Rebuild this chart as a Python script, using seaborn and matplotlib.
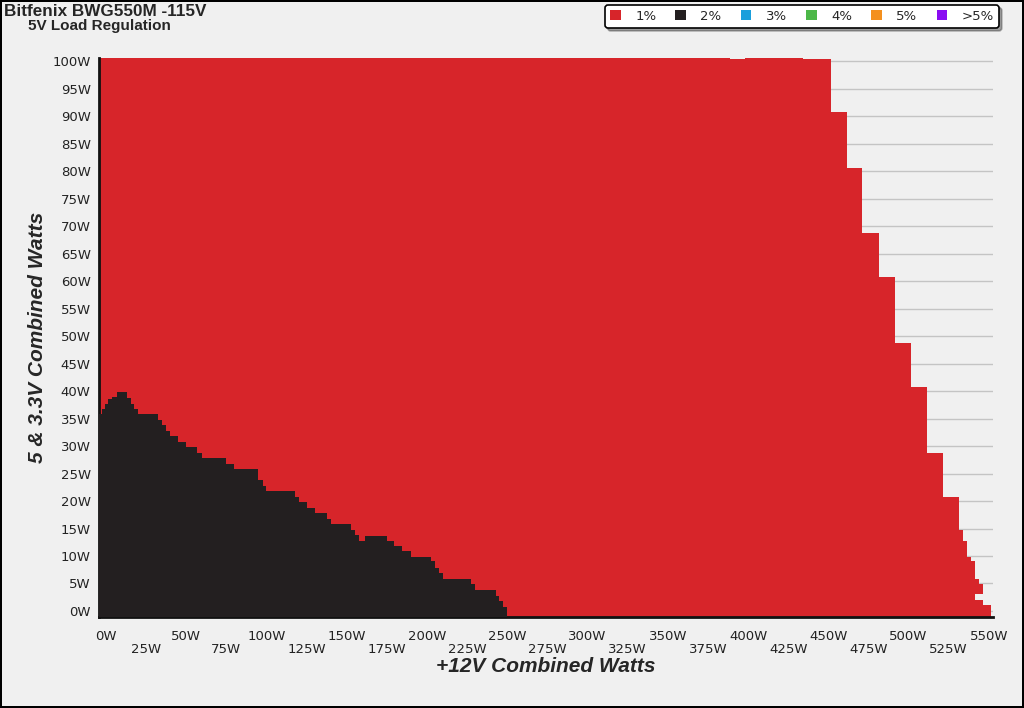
import matplotlib
matplotlib.use("Agg")
import matplotlib.pyplot as plt
import seaborn as sns
from matplotlib.patches import Patch
from matplotlib.ticker import MultipleLocator

# --- data (watts) ---
# black (2%) area: step tops along +12V axis
black_x = [-4.2, -2.5, -0.5, 1.5, 3.9, 6.6, 12.9, 15.4, 17.7, 20.1, 32.2, 34.7,
           37.2, 39.9, 44.6, 49.6, 56.9, 59.6, 74.8, 79.9, 94.9, 97.6, 99.7,
           117.8, 120.4, 125.0, 130.2, 137.9, 140.0, 152.6, 155.1, 157.6, 161.4,
           174.9, 179.4, 184.6, 189.8, 202.3, 205.0, 207.7, 209.8, 227.2, 229.9,
           242.8, 245.0, 247.5, 249.6]
black_y = [35.8, 36.7, 37.6, 38.5, 39.0, 39.8, 38.7, 37.7, 36.7, 35.8, 34.7, 33.8,
           32.8, 31.8, 30.8, 29.9, 28.8, 27.8, 26.7, 25.8, 23.8, 22.7, 21.8,
           20.8, 19.9, 18.7, 17.8, 16.7, 15.8, 14.7, 13.8, 12.8, 13.7,
           12.8, 11.8, 10.9, 9.9, 9.0, 7.8, 6.9, 5.9, 4.9, 3.8,
           2.7, 1.8, 0.8, 0.8]

# red (1%) area: right edge per 5V/3.3V level
red_y = [-1.1, 1.0, 2.0, 3.1, 4.9, 5.9, 9.0, 9.9, 12.7, 14.8, 20.8, 28.7,
         40.8, 48.7, 60.7, 68.7, 80.5, 90.7]
red_x = [551.4, 546.2, 541.4, 546.2, 544.1, 541.4, 538.9, 536.2, 533.7, 531.6,
         521.6, 511.3, 501.6, 491.6, 481.6, 471.2, 461.5, 451.7]
# top edge of red area above 90.7W
top_x = [-4.2, 388.8, 398.1, 434.3, 451.7]
top_y = [100.6, 100.3, 100.6, 100.4, 100.4]

legend_labels = ["1%", "2%", "3%", "4%", "5%", ">5%"]
legend_colors = ["#d7252a", "#231f20", "#1a9fdc", "#4cb748", "#f4901e", "#8a0cf2"]

bg = "#f0f0f0"
sns.set_style("white")
plt.rcParams['font.family'] = ['DejaVu Sans']

fig = plt.figure(figsize=(10.24, 7.08), dpi=100, facecolor=bg,
                 edgecolor="black", linewidth=1.5)
ax = fig.add_axes([99 / 1024, 1 - 617 / 708, 894 / 1024, 559 / 708])
ax.set_facecolor(bg)

x_left = black_x[0]
ax.fill_betweenx(red_y + [top_y[-1]], x_left, red_x + [red_x[-1]], step="post",
                 color=legend_colors[0], linewidth=0, antialiased=False, zorder=2)
ax.fill_between(top_x, red_y[-1], top_y, step="post",
                color=legend_colors[0], linewidth=0, antialiased=False, zorder=2)
ax.fill_between(black_x, red_y[0], black_y, step="post",
                color=legend_colors[1], linewidth=0, antialiased=False, zorder=3)

ax.set_xlim(-4.36, 552.6)
ax.set_ylim(-1.1, 100.6)

# y axis
ax.yaxis.set_minor_locator(MultipleLocator(1))
ax.set_yticks(range(0, 101, 5))
ax.set_yticklabels([f"{v}W" for v in range(0, 101, 5)])
# x axis, labels staggered on two rows
xt = list(range(0, 551, 25))
ax.set_xticks(xt)
ax.set_xticklabels([f"{v}W" if i % 2 == 0 else f"\n{v}W" for i, v in enumerate(xt)],
                   linespacing=1.05)
ax.xaxis.set_minor_locator(MultipleLocator(6.25))

ax.tick_params(axis="both", which="major", length=5, width=1, color="#333333",
               labelsize=9.5, labelcolor="#222222", pad=1)
ax.tick_params(axis="both", which="minor", length=3, width=1, color="#333333")
ax.tick_params(axis="x", which="major", pad=4)

ax.grid(axis="y", which="major", color="#c4c4c4", linewidth=1, zorder=0)
ax.set_axisbelow(True)

sns.despine(ax=ax, top=True, right=True)
for s in ["left", "bottom"]:
    ax.spines[s].set_color("#111111")
    ax.spines[s].set_linewidth(2)

ax.set_xlabel("+12V Combined Watts", fontsize=15, fontweight="bold", style="italic",
              family="Liberation Sans", labelpad=1)
ax.set_ylabel("5 & 3.3V Combined Watts", fontsize=15, fontweight="bold", style="italic",
              family="Liberation Sans", labelpad=4)

fig.text(4 / 1024, 1 - 11 / 708, "Bitfenix BWG550M -115V", fontsize=12.3,
         fontweight="bold", family="Liberation Sans", va="center", ha="left")
fig.text(28 / 1024, 1 - 26 / 708, "5V Load Regulation", fontsize=11,
         fontweight="bold", family="Liberation Sans", va="center", ha="left")

handles = [Patch(facecolor=c, edgecolor="none") for c in legend_colors]
leg = fig.legend(handles, legend_labels, loc="center", ncol=6,
                 bbox_to_anchor=(802 / 1024, 1 - 16.5 / 708), frameon=True,
                 fancybox=True, shadow=True, fontsize=9.5, handlelength=0.8,
                 handleheight=0.8, handletextpad=1.1, columnspacing=1.45,
                 borderpad=0.38, edgecolor="black", facecolor="white")
leg.get_frame().set_linewidth(1.2)
leg.get_frame().set_alpha(1)

fig.savefig("out.png", dpi=100, facecolor=bg, edgecolor="black")
